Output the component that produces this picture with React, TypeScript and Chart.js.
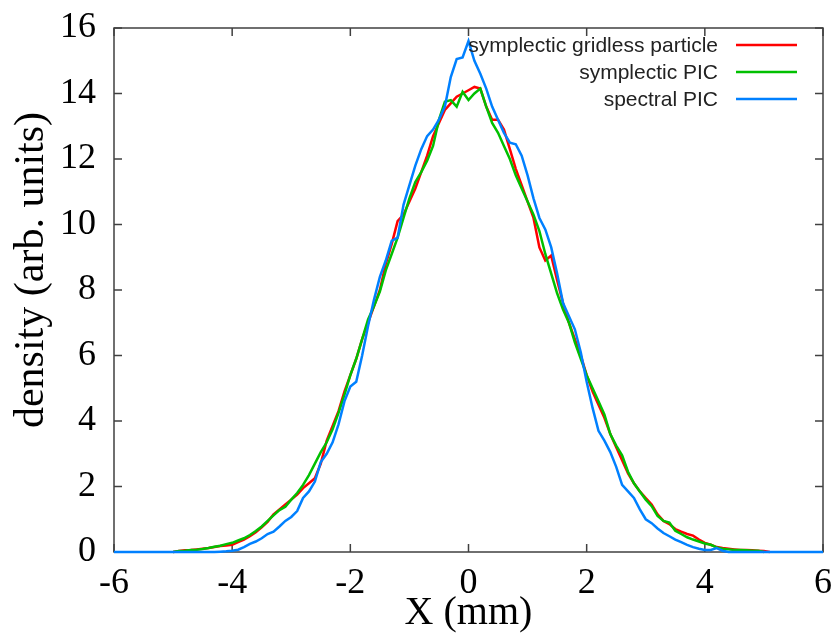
import React, { useEffect, useRef } from "react";
import { Chart, registerables } from "chart.js";

Chart.register(...registerables);

// x positions (mm)
const X = [
  -6,
  -5.0, -4.9, -4.8, -4.7, -4.6, -4.5, -4.4, -4.3, -4.2, -4.1,
  -4.0, -3.9, -3.8, -3.7, -3.6, -3.5, -3.4, -3.3, -3.2, -3.1,
  -3.0, -2.9, -2.8, -2.7, -2.6, -2.5, -2.4, -2.3, -2.2, -2.1,
  -2.0, -1.9, -1.8, -1.7, -1.6, -1.5, -1.4, -1.3, -1.2, -1.1,
  -1.0, -0.9, -0.8, -0.7, -0.6, -0.5, -0.4, -0.3, -0.2, -0.1,
  0.0, 0.1, 0.2, 0.3, 0.4, 0.5, 0.6, 0.7, 0.8, 0.9,
  1.0, 1.1, 1.2, 1.3, 1.4, 1.5, 1.6, 1.7, 1.8, 1.9,
  2.0, 2.1, 2.2, 2.3, 2.4, 2.5, 2.6, 2.7, 2.8, 2.9,
  3.0, 3.1, 3.2, 3.3, 3.4, 3.5, 3.6, 3.7, 3.8, 3.9,
  4.0, 4.1, 4.2, 4.3, 4.4, 4.5, 4.6, 4.7, 4.8, 4.9,
  5.0, 5.1,
  6,
];

const gridlessParticle = [
  null,
  0.0, 0.03, 0.05, 0.06, 0.08, 0.1, 0.12, 0.15, 0.18, 0.2,
  0.22, 0.3, 0.38, 0.48, 0.6, 0.75, 0.92, 1.15, 1.3, 1.45,
  1.6, 1.75, 1.95, 2.1, 2.25, 2.7, 3.4, 3.85, 4.3, 4.9,
  5.4, 5.9, 6.5, 7.0, 7.5, 8.0, 8.8, 9.4, 10.1, 10.3,
  10.7, 11.1, 11.6, 12.1, 12.7, 13.1, 13.5, 13.7, 13.9, 14.0,
  14.1, 14.2, 14.15, 13.6, 13.2, 13.2, 12.9, 12.3, 11.7, 11.2,
  10.7, 10.2, 9.3, 8.9, 9.05, 8.3, 7.6, 7.0, 6.5, 6.0,
  5.4, 4.9, 4.5, 4.1, 3.6, 3.2, 2.8, 2.4, 2.1, 1.85,
  1.65, 1.45, 1.15, 0.95, 0.85, 0.7, 0.62, 0.55, 0.5, 0.38,
  0.28, 0.22, 0.15, 0.12, 0.1, 0.08, 0.06, 0.06, 0.05, 0.04,
  0.03, 0.0,
  null,
];

const symplecticPIC = [
  null,
  0.0, 0.03, 0.04, 0.06, 0.07, 0.09, 0.12, 0.16, 0.19, 0.24,
  0.28, 0.35, 0.42, 0.52, 0.64, 0.78, 0.95, 1.12, 1.28, 1.38,
  1.6, 1.8, 2.05, 2.35, 2.7, 3.05, 3.35, 3.75, 4.25, 4.8,
  5.4, 5.9, 6.5, 7.1, 7.5, 7.95, 8.6, 9.1, 9.6, 10.2,
  10.8, 11.3, 11.6, 11.95, 12.4, 13.2, 13.75, 13.8, 13.6, 14.05,
  13.8, 14.0, 14.15, 13.6, 13.1, 12.8, 12.4, 12.0, 11.5, 11.1,
  10.7, 10.3, 9.8, 9.1, 8.5, 7.9, 7.4, 7.0, 6.4, 5.9,
  5.4, 5.0, 4.6, 4.2, 3.6, 3.25, 2.95, 2.45, 2.1, 1.85,
  1.6, 1.4, 1.1, 0.95, 0.9, 0.65, 0.55, 0.45, 0.38, 0.32,
  0.26, 0.22, 0.14, 0.1, 0.08, 0.06, 0.06, 0.05, 0.04, 0.04,
  0.0, null,
  null,
];

const spectralPIC = [
  0,
  0, 0, 0, 0, 0, 0, 0, 0, 0.01, 0.02,
  0.04, 0.07, 0.15, 0.25, 0.32, 0.42, 0.55, 0.62, 0.78, 0.95,
  1.07, 1.25, 1.65, 1.85, 2.15, 2.75, 3.0, 3.35, 3.9, 4.6,
  5.05, 5.2, 6.0, 6.9, 7.7, 8.4, 8.9, 9.5, 9.6, 10.6,
  11.2, 11.8, 12.3, 12.7, 12.9, 13.2, 13.6, 14.5, 15.05, 15.1,
  15.6, 15.0, 14.6, 14.15, 13.6, 13.2, 12.8, 12.5, 12.45, 12.1,
  11.5, 10.8, 10.2, 9.85, 9.3, 8.5, 7.6, 7.2, 6.8, 6.1,
  5.2, 4.4, 3.7, 3.4, 3.05, 2.6, 2.05, 1.85, 1.65, 1.3,
  1.0, 0.88, 0.72, 0.58, 0.48, 0.38, 0.3, 0.22, 0.15, 0.1,
  0.06, 0.06, 0.12, 0.04, 0, 0, 0, 0, 0, 0,
  0, 0,
  0,
];

const seriesLabels = ["symplectic gridless particle", "symplectic PIC", "spectral PIC"];
const seriesColors = ["#ff0000", "#00c000", "#0080ff"];
const xTitle = "X (mm)";
const yTitle = "density (arb. units)";

const SERIF = "'Liberation Serif', 'Times New Roman', serif";
const SANS = "'Liberation Sans', Arial, sans-serif";

const toPoints = (ys: (number | null)[]) => X.map((x, i) => ({ x, y: ys[i] }));

const framePlugin = {
  id: "frameTicks",
  beforeDatasetsDraw(chart: any) {
    const { ctx, chartArea: a, scales } = chart;
    ctx.save();
    ctx.strokeStyle = "#404040";
    ctx.lineWidth = 1.5;
    ctx.strokeRect(a.left, a.top, a.right - a.left, a.bottom - a.top);
    const len = 8;
    ctx.beginPath();
    scales.x.ticks.forEach((t: any) => {
      const px = scales.x.getPixelForValue(t.value);
      ctx.moveTo(px, a.bottom);
      ctx.lineTo(px, a.bottom - len);
      ctx.moveTo(px, a.top);
      ctx.lineTo(px, a.top + len);
    });
    scales.y.ticks.forEach((t: any) => {
      const py = scales.y.getPixelForValue(t.value);
      ctx.moveTo(a.left, py);
      ctx.lineTo(a.left + len, py);
      ctx.moveTo(a.right, py);
      ctx.lineTo(a.right - len, py);
    });
    ctx.stroke();
    ctx.restore();
  },
  afterDraw(chart: any) {
    const { ctx } = chart;
    ctx.save();
    // y axis title
    ctx.font = `42px ${SERIF}`;
    ctx.fillStyle = "#000";
    ctx.textAlign = "center";
    ctx.textBaseline = "middle";
    ctx.translate(32, 270);
    ctx.rotate(-Math.PI / 2);
    ctx.fillText(yTitle, 0, 0);
    ctx.restore();

    ctx.save();
    ctx.font = `21px ${SANS}`;
    ctx.textAlign = "right";
    ctx.textBaseline = "middle";
    chart.data.datasets.forEach((ds: any, i: number) => {
      const y = 45 + i * 27;
      ctx.fillStyle = "#222";
      ctx.fillText(ds.label, 718, y + 1);
      ctx.strokeStyle = ds.borderColor;
      ctx.lineWidth = 2.5;
      ctx.beginPath();
      ctx.moveTo(736, y);
      ctx.lineTo(797, y);
      ctx.stroke();
    });
    ctx.restore();
  },
};

export default function App() {
  const ref = useRef<HTMLCanvasElement>(null);
  useEffect(() => {
    const seriesData = [gridlessParticle, symplecticPIC, spectralPIC];
    const chart = new Chart(ref.current!, {
      type: "line",
      data: {
        datasets: seriesData.map((ys, i) => ({
          label: seriesLabels[i],
          data: toPoints(ys),
          borderColor: seriesColors[i],
          backgroundColor: seriesColors[i],
          borderWidth: 2.5,
          pointRadius: 0,
          tension: 0,
          spanGaps: false,
          order: 3 - i,
          clip: 4,
        })),
      },
      options: {
        responsive: false,
        animation: false,
        layout: { padding: { top: 28, right: 8, left: 0, bottom: 0 } },
        plugins: { legend: { display: false }, tooltip: { enabled: false } },
        scales: {
          x: {
            type: "linear",
            min: -6,
            max: 6,
            grid: { display: false, drawTicks: false },
            border: { display: false },
            ticks: {
              stepSize: 2,
              maxRotation: 0,
              color: "#000",
              padding: 10,
              font: { family: SERIF, size: 36 },
            },
            title: {
              display: true,
              text: xTitle,
              color: "#000",
              font: { family: SERIF, size: 40 },
              padding: { top: 0, bottom: 1 },
            },
            afterFit: (s: any) => {
              s.height = 86;
              s.paddingLeft = 0;
              s.paddingRight = 0;
            },
          },
          y: {
            type: "linear",
            min: 0,
            max: 16,
            grid: { display: false, drawTicks: false },
            border: { display: false },
            ticks: {
              stepSize: 2,
              color: "#000",
              padding: 18,
              font: { family: SERIF, size: 36 },
            },
            title: { display: false },
            afterFit: (s: any) => {
              s.width = 114;
              s.paddingTop = 0;
              s.paddingBottom = 0;
            },
          },
        },
      },
      plugins: [framePlugin],
    });
    return () => chart.destroy();
  }, []);
  return (
    <div style={{ position: "absolute", left: 0, top: 0, width: 831, height: 638, background: "#fff" }}>
      <canvas ref={ref} width={831} height={638} style={{ display: "block" }} />
    </div>
  );
}
